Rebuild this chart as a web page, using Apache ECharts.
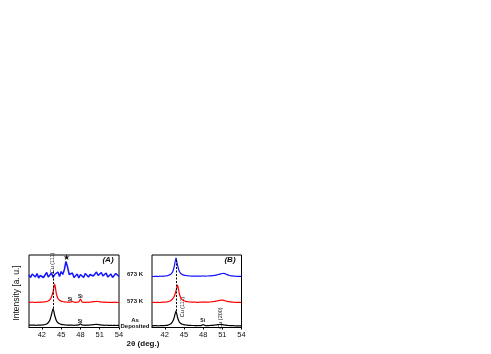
<!DOCTYPE html>
<html>
<head>
<meta charset="utf-8">
<script src="https://cdn.jsdelivr.net/npm/echarts@6/dist/echarts.min.js"></script>
<style>
  html, body { margin: 0; padding: 0; background: #fff; }
  #chart { width: 491px; height: 354px; }
</style>
</head>
<body>
<div id="chart"></div>
<script>
// 2θ grid (deg.)
const twoTheta = [40, 40.25, 40.5, 40.75, 41, 41.25, 41.5, 41.75, 42, 42.25,
  42.5, 42.75, 43, 43.25, 43.5, 43.75, 44, 44.25, 44.5, 44.75,
  45, 45.25, 45.5, 45.75, 46, 46.25, 46.5, 46.75, 47, 47.25,
  47.5, 47.75, 48, 48.25, 48.5, 48.75, 49, 49.25, 49.5, 49.75,
  50, 50.25, 50.5, 50.75, 51, 51.25, 51.5, 51.75, 52, 52.25,
  52.5, 52.75, 53, 53.25, 53.5, 53.75, 54];
const tickValues = [42, 45, 48, 51, 54];

// panel (A) curves, offset intensities
const aAsDep = [2.5, 2.4, 2.3, 2.4, 2.2, 2.3, 2.4, 2.3, 2.5, 2.6,
  3.0, 3.6, 4.8, 7.5, 13, 19, 12, 7, 4.8, 3.8,
  3.2, 2.9, 2.7, 2.5, 2.4, 2.3, 2.4, 2.3, 2.2, 2.3,
  2.4, 2.6, 3.6, 2.5, 2.3, 2.2, 2.4, 2.3, 2.5, 2.6,
  2.8, 3.0, 3.2, 3.0, 2.7, 2.5, 2.3, 2.2, 2.3, 2.2,
  2.1, 2.2, 2.0, 2.1, 2.0, 2.1, 2.0];
const a573 = [25.3, 25.1, 25.4, 25.2, 25.0, 25.3, 25.2, 25.4, 25.3, 25.5,
  25.6, 26.0, 26.6, 27.8, 30.5, 36, 43.5, 34, 29, 27.2,
  26.4, 26.0, 25.7, 25.5, 25.4, 25.3, 25.4, 26.2, 25.3, 25.2,
  25.3, 25.6, 28.5, 25.5, 25.2, 25.1, 25.3, 25.2, 25.4, 25.6,
  25.8, 25.9, 26.1, 26.0, 25.7, 25.5, 25.3, 25.2, 25.4, 25.1,
  25.2, 25.0, 25.2, 25.1, 25.3, 25.0, 25.1];
const a673 = [52.5, 50, 53.5, 51.5, 50.5, 54, 49.5, 52, 53.5, 50,
  52.5, 55, 50.5, 51.5, 54.5, 50, 53, 52, 55.5, 51,
  56, 53, 58, 66, 60.5, 53, 51.5, 54.5, 50, 52,
  53.5, 49.5, 53, 51, 50, 54, 52.5, 50.5, 53, 55,
  51.5, 53.5, 55.5, 52, 54, 55, 51.5, 53, 54.5, 50.5,
  52, 53.5, 50, 51.5, 54, 52.5, 51];

// panel (B) curves
const bAsDep = [1.8, 1.7, 1.9, 1.8, 1.7, 1.8, 1.9, 1.8, 2.0, 2.1,
  2.4, 3.0, 4.0, 6.2, 10.5, 16.5, 10.0, 5.8, 4.0, 3.2,
  2.8, 2.5, 2.3, 2.2, 2.1, 2.0, 2.0, 1.9, 1.9, 2.0,
  1.9, 2.1, 2.9, 2.1, 1.9, 1.9, 2.0, 2.1, 2.2, 2.4,
  2.6, 2.8, 3.0, 3.1, 2.9, 2.6, 2.3, 2.1, 2.0, 1.9,
  1.8, 1.8, 1.7, 1.7, 1.6, 1.6, 1.6];
const b573 = [25.0, 25.1, 25.0, 25.2, 25.1, 25.0, 25.2, 25.3, 25.4, 25.5,
  25.8, 26.3, 27.2, 28.8, 31.5, 36.5, 42.5, 34.5, 29.5, 27.6,
  26.7, 26.2, 25.9, 25.7, 25.5, 25.4, 25.3, 25.3, 25.2, 25.2,
  25.3, 25.3, 25.6, 25.3, 25.3, 25.4, 25.5, 25.6, 25.8, 26.0,
  26.3, 26.7, 27.0, 27.3, 27.4, 27.1, 26.6, 26.1, 25.8, 25.6,
  25.4, 25.3, 25.2, 25.2, 25.1, 25.1, 25.0];
const b673 = [51.2, 51.0, 51.1, 51.2, 51.0, 51.3, 51.2, 51.4, 51.5, 51.7,
  52.0, 52.6, 53.6, 56.0, 61.5, 69.5, 62.0, 56.5, 54.0, 52.9,
  52.3, 52.0, 51.8, 51.6, 51.5, 51.4, 51.4, 51.3, 51.3, 51.3,
  51.4, 51.4, 51.6, 51.4, 51.5, 51.5, 51.6, 51.7, 51.9, 52.1,
  52.4, 52.8, 53.2, 53.6, 54.0, 54.1, 53.6, 52.9, 52.3, 51.9,
  51.6, 51.4, 51.3, 51.2, 51.2, 51.1, 51.1];

const pairs = (arr) => twoTheta.map((x, i) => [x, arr[i]]);

const chart = echarts.init(document.getElementById("chart"));

const FONT = "'Liberation Sans', Arial, sans-serif";

function xAxisFor(idx) {
  return {
    type: "value",
    gridIndex: idx,
    min: 40,
    max: 54,
    splitLine: { show: false },
    axisLine: { lineStyle: { color: "#000", width: 1 } },
    axisTick: { customValues: tickValues, length: 2, lineStyle: { color: "#000" } },
    axisLabel: {
      customValues: tickValues,
      color: "#111",
      fontSize: 7.5,
      margin: 3,
      fontFamily: FONT,
    },
  };
}

function yAxisFor(idx) {
  return { type: "value", gridIndex: idx, min: 0, max: 72.5, show: false };
}

function curve(name, data, color, idx, width, extra) {
  return Object.assign({
    name: name,
    type: "line",
    xAxisIndex: idx,
    yAxisIndex: idx,
    data: pairs(data),
    showSymbol: false,
    silent: true,
    color: color,
    lineStyle: { width: width, color: color },
  }, extra || {});
}

function dashed(yLow, yHigh) {
  return {
    symbol: "none",
    silent: true,
    label: { show: false },
    lineStyle: { type: [2, 1.5], color: "#000", width: 1 },
    data: [[{ coord: [43.75, yLow] }, { coord: [43.75, yHigh] }]],
  };
}

// small text helper for graphic labels
function txt(x, y, text, size, opts, styleExtra) {
  return Object.assign({
    type: "text",
    x: x,
    y: y,
    style: Object.assign({
      text: text,
      fontSize: size,
      fontFamily: FONT,
      fill: "#111",
      align: "center",
      verticalAlign: "middle",
    }, styleExtra || {}),
  }, opts || {});
}

const up = { rotation: Math.PI / 2 };

const option = {
  animation: false,
  grid: [
    { left: 29, top: 255, width: 90, height: 72.5, show: true, borderColor: "#000", borderWidth: 1 },
    { left: 152, top: 255, width: 89.5, height: 72.5, show: true, borderColor: "#000", borderWidth: 1 },
  ],
  xAxis: [xAxisFor(0), xAxisFor(1)],
  yAxis: [yAxisFor(0), yAxisFor(1)],
  series: [
    curve("As Deposited", aAsDep, "#000", 0, 1.2, { smooth: 0.2, markLine: dashed(19, 56) }),
    curve("573 K", a573, "#f00", 0, 1.2, { smooth: 0.2 }),
    curve("673 K", a673, "#1414ff", 0, 1.5),
    curve("As Deposited", bAsDep, "#000", 1, 1.2, { smooth: 0.2, markLine: dashed(16.5, 69.5) }),
    curve("573 K", b573, "#f00", 1, 1.2, { smooth: 0.2 }),
    curve("673 K", b673, "#1414ff", 1, 1.2, { smooth: 0.2 }),
  ],
  graphic: [
    // panel tags
    txt(108, 259.5, "(A)", 8, null, { fontStyle: "italic", fontWeight: "bold" }),
    txt(230, 259.5, "(B)", 8, null, { fontStyle: "italic", fontWeight: "bold" }),
    // series names between the panels
    txt(135, 274.5, "673 K", 6, null, { fontWeight: "bold" }),
    txt(135, 301.5, "573 K", 6, null, { fontWeight: "bold" }),
    txt(135, 320.5, "As", 6, null, { fontWeight: "bold" }),
    txt(135, 326, "Deposited", 6, null, { fontWeight: "bold" }),
    // peak annotations
    txt(52.6, 263, "Cu (111)", 5.5, up),
    txt(66, 257.5, "★", 8),
    txt(70, 299.5, "Si", 5, null, { fontWeight: "bold" }),
    txt(80.3, 296.5, "Si", 5, null, { fontWeight: "bold" }),
    txt(80, 321.5, "Si", 5, null, { fontWeight: "bold" }),
    txt(182.5, 307, "Cu (111)", 5.5, up),
    txt(202.7, 321, "Si", 5, null, { fontWeight: "bold" }),
    txt(220, 318, "Cu (200)", 5.5, up),
    // axis titles
    txt(143, 344, "2θ (deg.)", 8, null, { fontWeight: "bold" }),
    txt(17, 293, "Intensity [a. u.]", 8.5, up, { fontFamily: "'Liberation Sans Narrow', 'Liberation Sans', sans-serif" }),
  ],
};

chart.setOption(option);
</script>
</body>
</html>
